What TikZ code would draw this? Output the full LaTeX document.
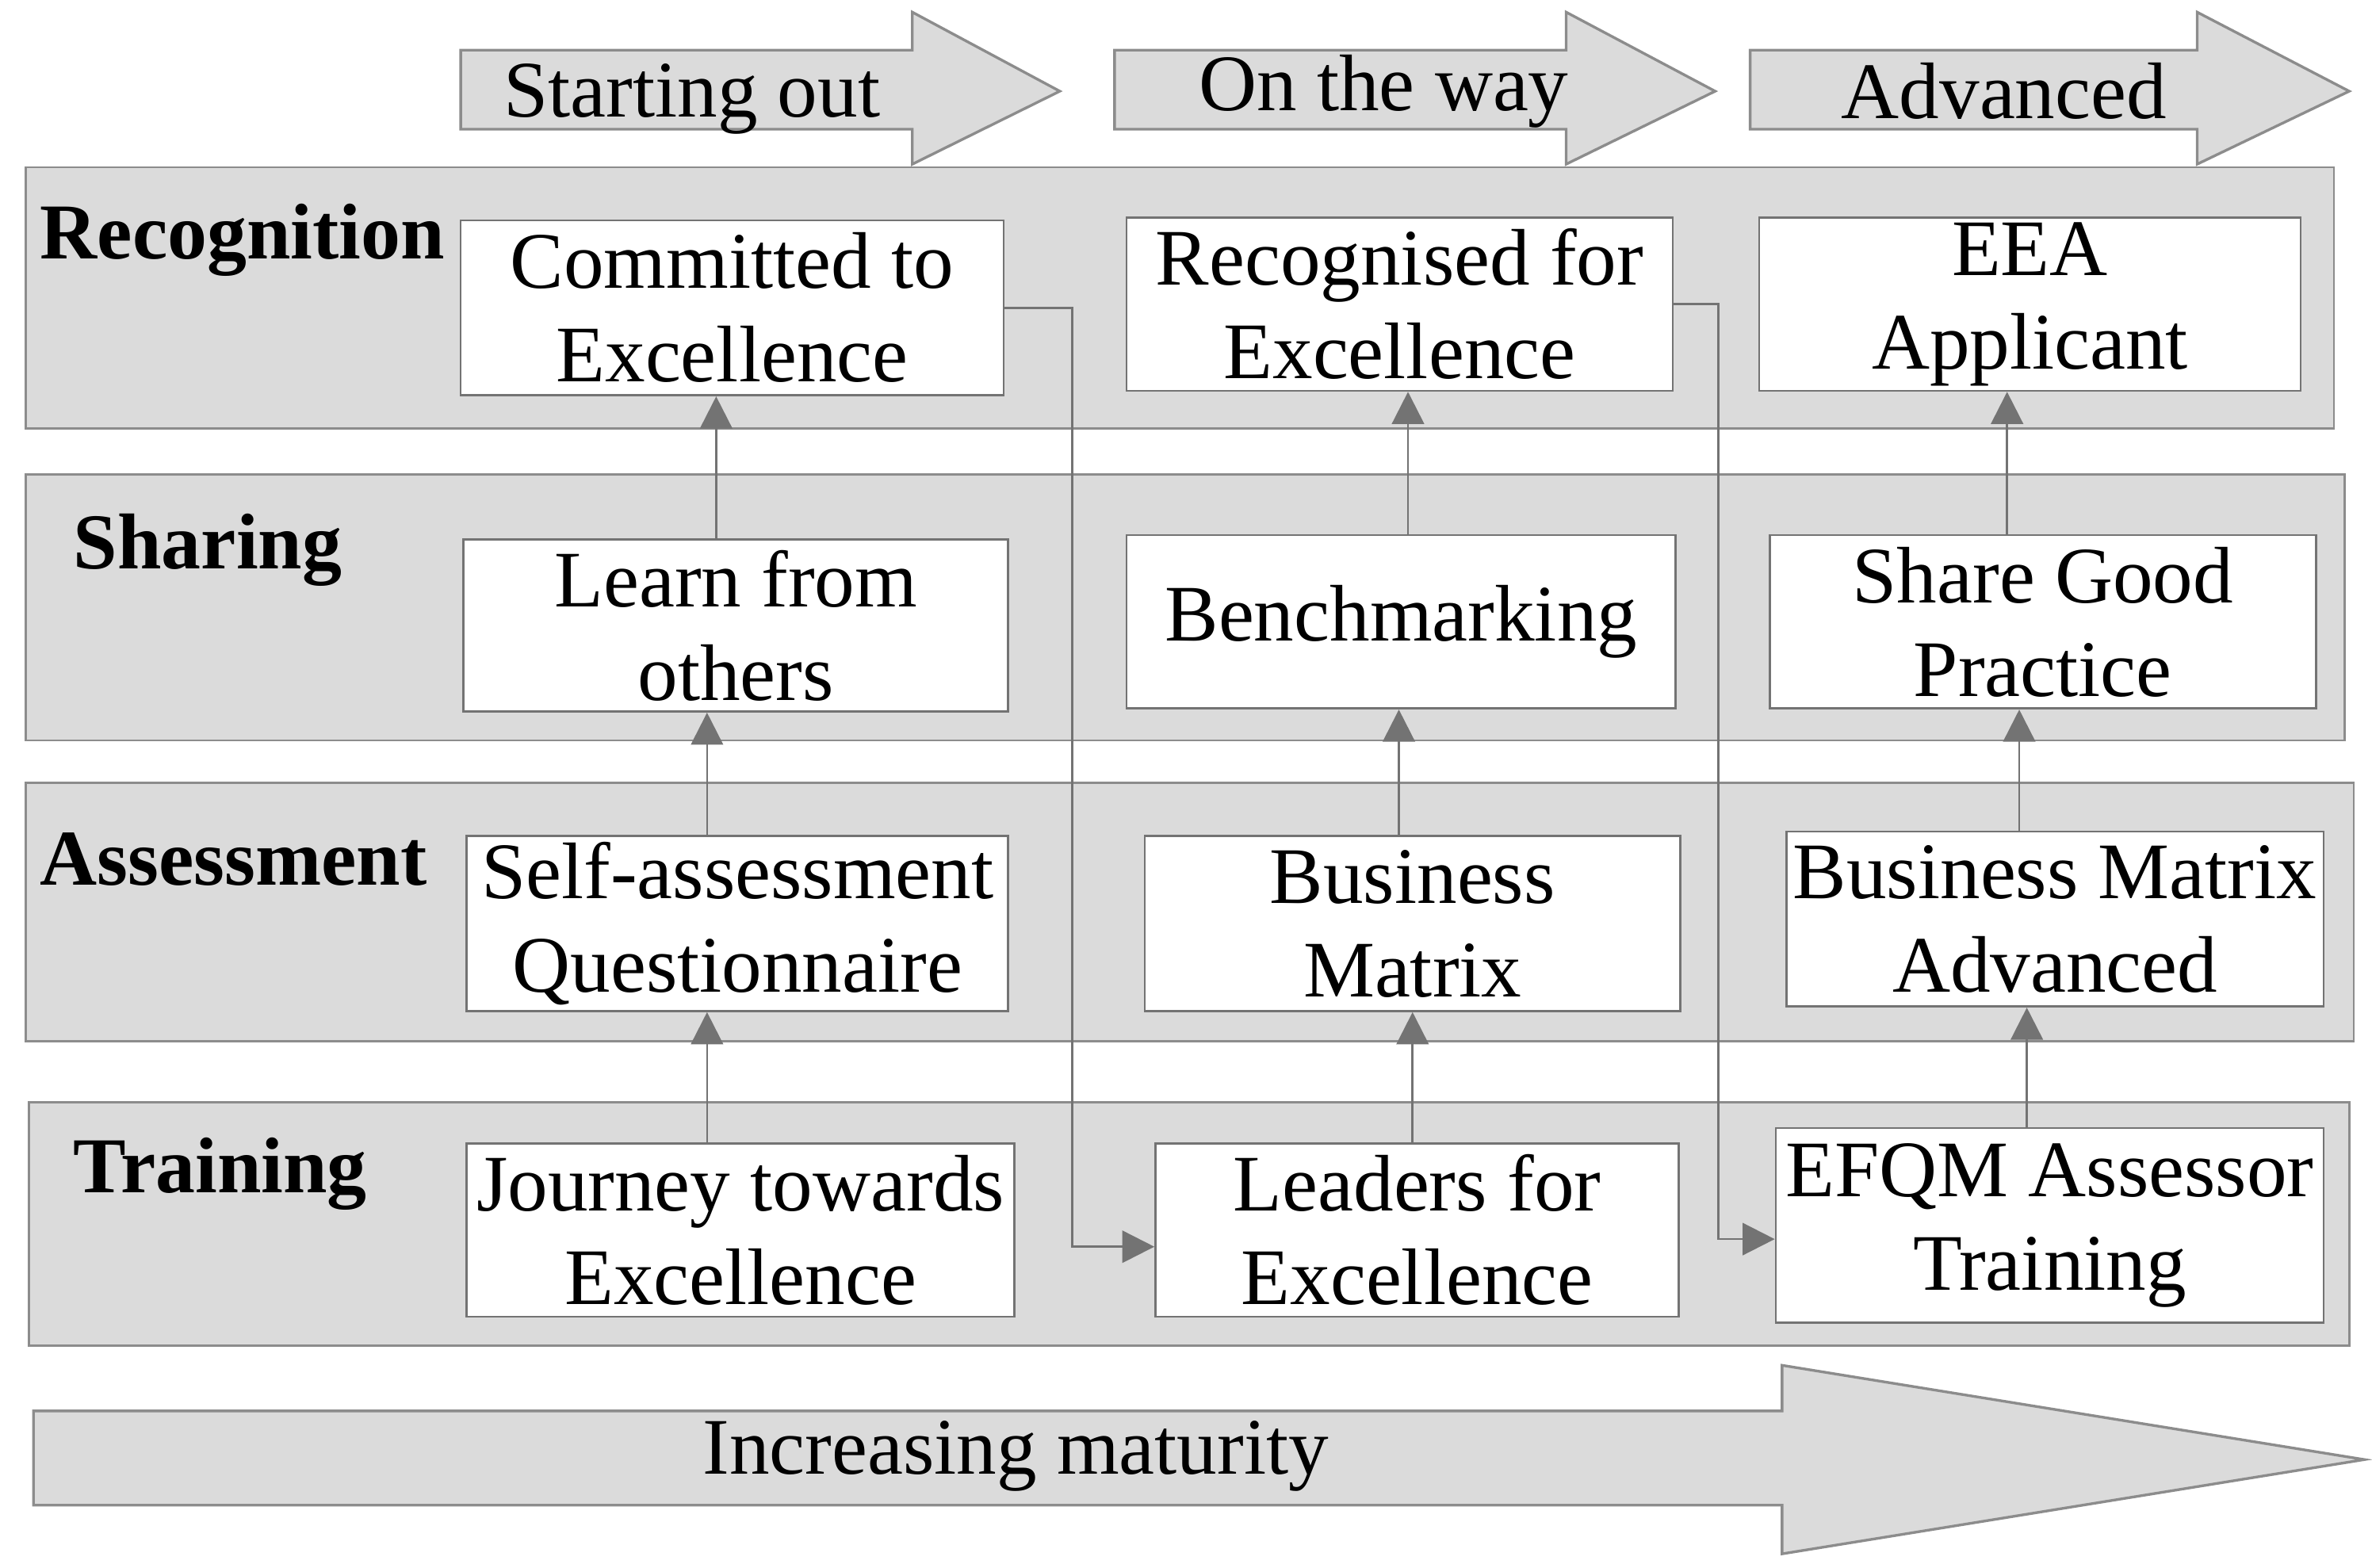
\documentclass[tikz,border=0pt]{standalone}
\usepackage{fontspec}
\setmainfont{Liberation Serif}
\usetikzlibrary{arrows.meta}
\begin{document}
\begin{tikzpicture}[x=0.01cm,y=-0.01cm,
  band/.style={fill=black!14,draw=black!45,line width=0.4pt},
  bigarrow/.style={fill=black!14,draw=black!45,line width=0.5pt},
  box/.style={fill=white,draw=black!55,line width=0.4pt,align=center,inner sep=0pt,
    font=\fontsize{15}{17.5}\selectfont},
  lab/.style={anchor=west,font=\fontsize{14.8}{17}\selectfont\bfseries},
  arr/.style={-{Triangle[length=6pt,width=6pt]},draw=black!55,line width=0.4pt},
  ttl/.style={font=\fontsize{15}{17}\selectfont}]
\useasboundingbox (0,0) rectangle (1560,1031);
% top arrows
\draw[bigarrow] (303,33) -- (600,33) -- (600,8) -- (697,60) -- (600,108) -- (600,85) -- (303,85) -- cycle;
\draw[bigarrow] (733,33) -- (1030,33) -- (1030,8) -- (1128,60) -- (1030,108) -- (1030,85) -- (733,85) -- cycle;
\draw[bigarrow] (1151,33) -- (1445,33) -- (1445,8) -- (1545,60) -- (1445,108) -- (1445,85) -- (1151,85) -- cycle;
\node[ttl] (t1) at (455,65) {Starting out};
\node[ttl] (t2) at (910,60) {On the way};
\node[ttl] (t3) at (1318,60) {Advanced};
% bands
\draw[band] (17,110) rectangle (1535,282);
\draw[band] (17,312) rectangle (1542,487);
\draw[band] (17,515) rectangle (1548,685);
\draw[band] (19,725) rectangle (1545,885);
\node[lab] (lr) at (14,158) {Recognition};
\node[lab] (ls) at (36,362) {Sharing};
\node[lab] (la) at (14,565) {Assessment};
\node[lab] (lt) at (36,772) {Training};
% boxes
\node[box,minimum width=3.57cm,minimum height=1.15cm] (R1) at (481.5,202.5) {Committed to\\Excellence};
\node[box,minimum width=3.59cm,minimum height=1.14cm] (R2) at (920.5,200) {Recognised for\\Excellence};
\node[box,minimum width=3.56cm,minimum height=1.14cm] (R3) at (1335,200) {EEA\\Applicant};
\node[box,minimum width=3.58cm,minimum height=1.13cm] (S1) at (484,411.5) {Learn from\\others};
\node[box,minimum width=3.61cm,minimum height=1.14cm] (S2) at (921.5,409) {Benchmarking};
\node[box,minimum width=3.59cm,minimum height=1.14cm] (S3) at (1343.5,409) {Share Good\\Practice};
\node[box,minimum width=3.56cm,minimum height=1.15cm] (A1) at (485,607.5) {Self-assessment\\Questionnaire};
\node[box,minimum width=3.52cm,minimum height=1.15cm] (A2) at (929,607.5) {Business\\Matrix};
\node[box,minimum width=3.53cm,minimum height=1.15cm] (A3) at (1351.5,604.5) {Business Matrix\\Advanced};
\node[box,minimum width=3.60cm,minimum height=1.14cm] (T1) at (487,809) {Journey towards\\Excellence};
\node[box,minimum width=3.44cm,minimum height=1.14cm] (T2) at (932,809) {Leaders for\\Excellence};
\node[box,minimum width=3.60cm,minimum height=1.28cm] (T3) at (1348,806) {EFQM Assessor\\Training};
% x positions for vertical arrows
\coordinate (xa) at (465,0);
\coordinate (xb) at (471,0);
\coordinate (xc) at (929,0);
\coordinate (xd) at (920,0);
\coordinate (xe) at (926,0);
\coordinate (xf) at (1333,0);
\coordinate (xg) at (1328,0);
\coordinate (xh) at (1320,0);
% vertical arrows
\draw[arr] (T1.north -| xa) -- (A1.south -| xa);
\draw[arr] (A1.north -| xa) -- (S1.south -| xa);
\draw[arr] (S1.north -| xb) -- (R1.south -| xb);
\draw[arr] (T2.north -| xc) -- (A2.south -| xc);
\draw[arr] (A2.north -| xd) -- (S2.south -| xd);
\draw[arr] (S2.north -| xe) -- (R2.south -| xe);
\draw[arr] (T3.north -| xf) -- (A3.south -| xf);
\draw[arr] (A3.north -| xg) -- (S3.south -| xg);
\draw[arr] (S3.north -| xh) -- (R3.south -| xh);
% elbow arrows
\draw[arr] (R1.east) -- (705,202.5) -- (705,820) -- (T2.west |- 0,820);
\draw[arr] (R2.east) -- (1130,200) -- (1130,815) -- (T3.west |- 0,815);
% bottom arrow
\draw[bigarrow] (22,928) -- (1172,928) -- (1172,898) -- (1555,960) -- (1172,1022) -- (1172,990) -- (22,990) -- cycle;
\node[ttl] (im) at (668,958) {Increasing maturity};
\end{tikzpicture}
\end{document}
